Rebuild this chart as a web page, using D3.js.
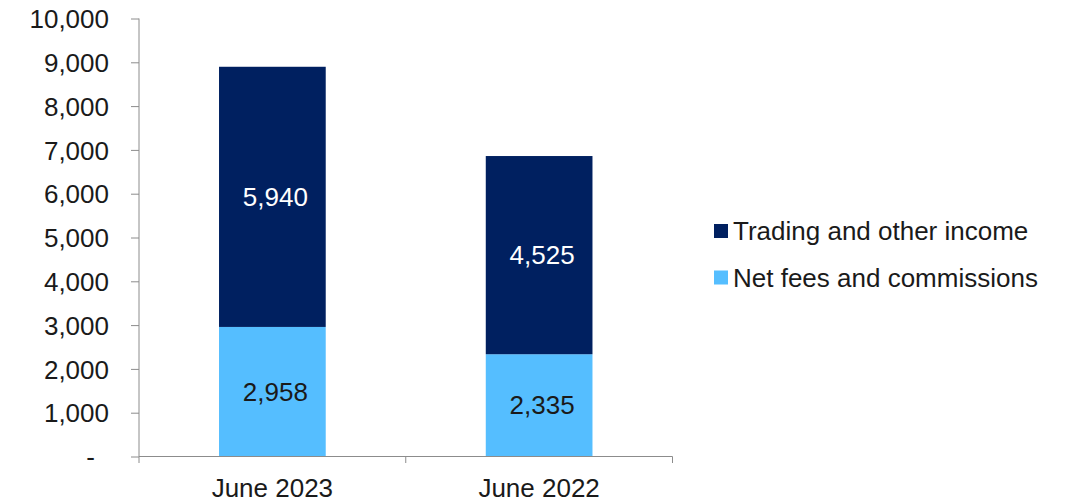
<!DOCTYPE html>
<html>
<head>
<meta charset="utf-8">
<script src="https://cdn.jsdelivr.net/npm/d3@7/dist/d3.min.js"></script>
<style>
  html, body { margin: 0; padding: 0; background: #fff; }
  svg { display: block; font-family: "Liberation Sans", Arial, sans-serif; }
</style>
</head>
<body>
<svg id="chart" width="1071" height="503"></svg>
<script>
// Revenue split by period
const categories = ["June 2023", "June 2022"];
const seriesNames = ["Net fees and commissions", "Trading and other income"];
const netFees = [2958, 2335];
const tradingOther = [5940, 4525];
const yTicks = [0, 1000, 2000, 3000, 4000, 5000, 6000, 7000, 8000, 9000, 10000];

const colors = { "Net fees and commissions": "#55BEFF", "Trading and other income": "#002060" };
const labelColors = { "Net fees and commissions": "#1a1a1a", "Trading and other income": "#ffffff" };

const svg = d3.select("#chart");
const fontSize = 26;
const axisColor = "#8c8c8c";

const y = d3.scaleLinear().domain([0, 10000]).range([456.5, 18.5]);
const x = d3.scaleBand().domain(categories).range([139, 672.5]).padding(0);
const barW = x.bandwidth() * 0.4;

// stack the two series
const rows = categories.map((c, i) => ({
  category: c,
  "Net fees and commissions": netFees[i],
  "Trading and other income": tradingOther[i]
}));
const stacked = d3.stack().keys(seriesNames)(rows);

const fmt = d3.format(",");

// bars
const layers = svg.append("g").selectAll("g")
  .data(stacked).join("g")
  .attr("fill", d => colors[d.key]);

layers.selectAll("rect")
  .data(d => d.map(p => ({ key: d.key, p })))
  .join("rect")
  .attr("x", d => x(d.p.data.category) + (x.bandwidth() - barW) / 2)
  .attr("width", barW)
  .attr("y", d => y(d.p[1]))
  .attr("height", d => y(d.p[0]) - y(d.p[1]));

// value labels
layers.selectAll("text")
  .data(d => d.map(p => ({ key: d.key, p })))
  .join("text")
  .attr("x", d => x(d.p.data.category) + x.bandwidth() / 2 + 3)
  .attr("y", d => (y(d.p[0]) + y(d.p[1])) / 2)
  .attr("dy", "0.35em")
  .attr("text-anchor", "middle")
  .attr("font-size", fontSize)
  .attr("fill", d => labelColors[d.key])
  .text(d => fmt(d.p[1] - d.p[0]));

// y axis
const yAxis = d3.axisLeft(y)
  .tickValues(yTicks)
  .tickSize(8)
  .tickPadding(22)
  .tickFormat(v => v === 0 ? "-" : fmt(v));

const yG = svg.append("g")
  .attr("transform", "translate(139,0)")
  .call(yAxis);
yG.select(".domain").attr("stroke", axisColor).attr("d", `M0,${y(10000)}V${y(0)}`);
yG.selectAll(".tick line").attr("stroke", axisColor);
yG.selectAll(".tick text")
  .attr("font-size", fontSize)
  .attr("font-family", "Liberation Sans, Arial, sans-serif")
  .attr("fill", "#1a1a1a")
  .attr("dy", "0.35em");
// the zero label sits one digit-width in from the others
yG.selectAll(".tick").filter(d => d === 0).select("text").attr("dx", -14);

// x axis: ticks at band boundaries
const xG = svg.append("g").attr("transform", `translate(0,${y(0)})`);
xG.append("line")
  .attr("x1", x.range()[0]).attr("x2", x.range()[1])
  .attr("stroke", axisColor);
const boundaries = [x.range()[0]].concat(categories.map(c => x(c) + x.bandwidth()));
xG.selectAll("line.tick")
  .data(boundaries).join("line")
  .attr("class", "tick")
  .attr("x1", d => d).attr("x2", d => d)
  .attr("y1", 0).attr("y2", 6.5)
  .attr("stroke", axisColor);
xG.selectAll("text")
  .data(categories).join("text")
  .attr("x", d => x(d) + x.bandwidth() / 2)
  .attr("y", 40)
  .attr("text-anchor", "middle")
  .attr("font-size", fontSize)
  .attr("fill", "#1a1a1a")
  .text(d => d);

// legend (stack order reversed: top series first)
const legendItems = seriesNames.slice().reverse();
const legend = svg.append("g").attr("transform", "translate(714,224)");
const li = legend.selectAll("g")
  .data(legendItems).join("g")
  .attr("transform", (d, i) => `translate(0,${i * 46.5})`);
li.append("rect")
  .attr("width", 14).attr("height", 14)
  .attr("fill", d => colors[d]);
li.append("text")
  .attr("x", 19)
  .attr("y", 16)
  .attr("font-size", fontSize)
  .attr("fill", "#1a1a1a")
  .text(d => d);
</script>
</body>
</html>
